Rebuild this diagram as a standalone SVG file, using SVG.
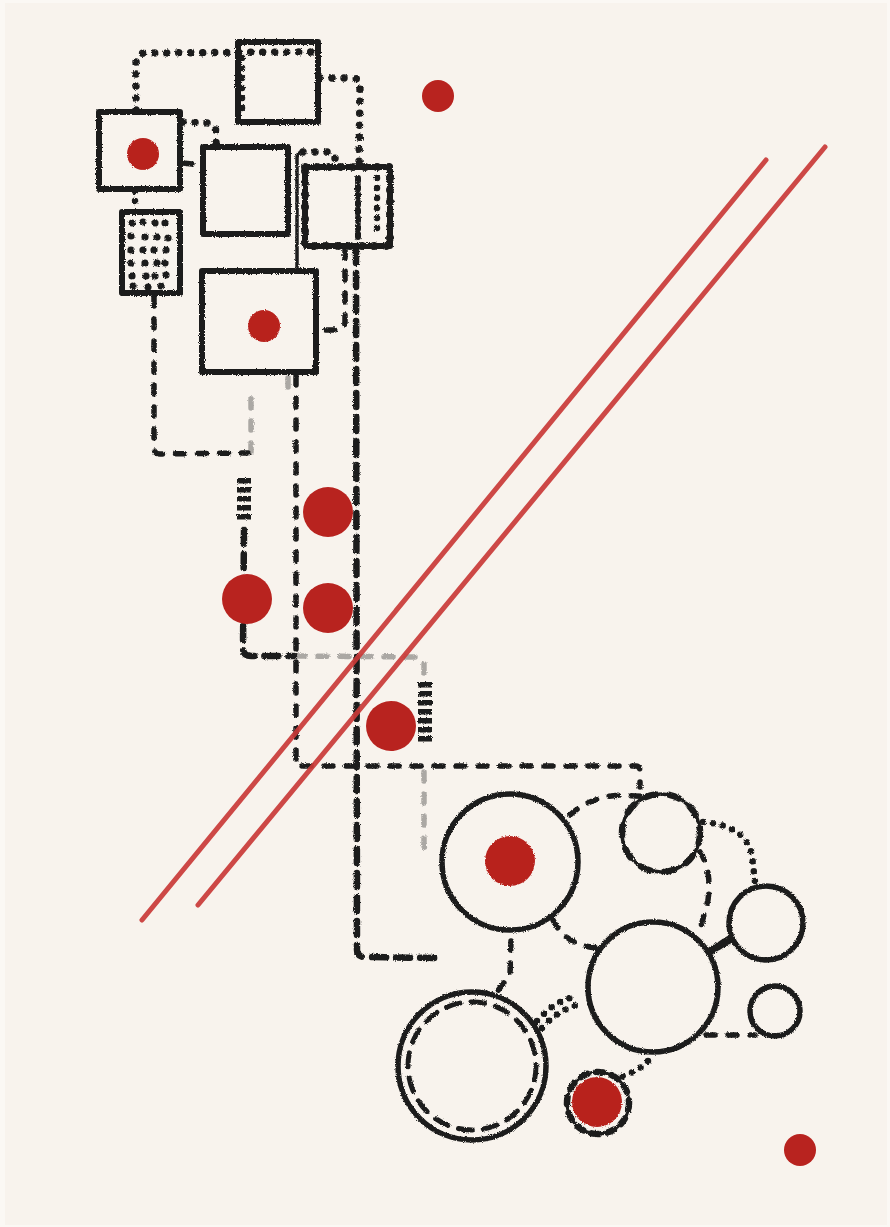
<svg xmlns="http://www.w3.org/2000/svg" width="890" height="1227" viewBox="0 0 890 1227">
<style>
.ink{fill:none;stroke:#1d1d1d;stroke-linecap:round;stroke-linejoin:round}
.box{stroke-width:6}
.ring{stroke-width:5.5}
.dot{stroke-width:7.5;stroke-dasharray:0 12}
.dotS{stroke-width:6.5;stroke-dasharray:0 10}
.dash{stroke-width:5.5;stroke-dasharray:9 13}
.dashH{stroke-width:6.5;stroke-dasharray:14 10}
.coil{fill:none;stroke:#1d1d1d;stroke-width:14;stroke-dasharray:5.5 3.5;stroke-linecap:butt}
.faint{opacity:.35}
.red{fill:#b8231f}
.redline{fill:none;stroke:#c93a37;stroke-width:5;stroke-linecap:round;opacity:.92}
.fill{fill:#1d1d1d}
</style>
<defs>
<filter id="rough" x="-5%" y="-5%" width="110%" height="110%">
<feTurbulence type="fractalNoise" baseFrequency="0.9" numOctaves="2" seed="4" result="n"/>
<feDisplacementMap in="SourceGraphic" in2="n" scale="3" xChannelSelector="R" yChannelSelector="G" result="d"/>
<feGaussianBlur in="d" stdDeviation="0.7"/>
</filter>
</defs>
<rect x="0" y="0" width="890" height="1227" fill="#fbf8f4"/>
<rect x="5" y="3" width="882" height="1222" fill="#f8f3ed"/>

<g id="connectors" filter="url(#rough)">
<path class="ink dot" d="M136,110 L136,62 Q136,53 146,53 L312,52"/>
<path class="ink dotS" d="M242,58 L242,118"/>
<path class="ink dot" d="M320,78 L352,78 Q360,78 360,86 L359,165"/>
<path class="ink dot" d="M183,122 L208,123 Q216,125 216,134 L216,146"/>
<path class="ink dash" d="M183,163 L203,165"/>
<path class="ink dotS" d="M135,191 L135,211"/>
<path class="ink" stroke-width="3.5" d="M297,268 L297,158 Q297,152 303,152"/>
<path class="ink dot" d="M303,152 L330,152 Q335,152 335,158 L335,166"/>
<path class="ink dash" d="M345,249 L345,322 Q345,330 337,330 L318,330"/>
<path class="ink dashH" d="M356,249 L357,950 Q357,957 365,957 L436,958"/>
<path class="ink dash" d="M154,297 L154,448 Q154,454 160,454 L248,453"/>
<path class="ink dash faint" d="M251,452 L251,393"/>
<path class="ink dash faint" d="M288,378 L288,398"/>
<path class="coil" d="M244,478 L244,522"/>
<path class="ink dashH" d="M244,530 L243,648 Q243,656 251,656 L294,656"/>
<path class="ink dash" d="M296,376 L296,766 L636,766 Q640,766 640,772 L640,787"/>
<path class="ink dash faint" d="M296,656 L420,657"/>
<path class="coil" d="M425,682 L425,742"/>
<path class="ink dash faint" d="M424,664 L424,676"/>
<path class="ink dash faint" d="M424,772 L424,845 Q424,851 432,851"/>
<path class="ink dash" d="M570,815 Q590,797 620,795 L650,797"/>
<path class="ink dotS" stroke-width="7" d="M703,822 Q745,825 752,855 L755,882"/>
<path class="ink dash" d="M700,852 Q712,870 708,900 L700,930"/>
<path class="ink dash" d="M553,920 Q565,945 597,948"/>
<path class="ink dash" d="M511,941 L510,975 L496,993"/>
<path class="ink dotS" d="M537,1021 Q555,1000 578,996"/>
<path class="ink dotS" d="M542,1028 Q560,1008 582,1004"/>
<path class="ink" stroke-width="8" stroke-dasharray="3 3" stroke-linecap="butt" d="M712,950 L732,938"/>
<path class="ink dash" d="M706,1035 L755,1035"/>
<path class="ink dotS" d="M648,1061 Q638,1072 618,1078"/>
</g>

<g id="box-a" filter="url(#rough)">
<rect class="ink box" x="238" y="42" width="80" height="80"/>
</g>
<g id="box-b" filter="url(#rough)">
<rect class="ink box" x="99" y="112" width="81" height="77"/>
<circle class="red" cx="143" cy="154" r="16"/>
</g>
<g id="box-c" filter="url(#rough)">
<rect class="ink box" x="203" y="147" width="85" height="87"/>
</g>
<g id="box-d" filter="url(#rough)">
<rect class="ink box" x="305" y="167" width="85" height="79"/>
<rect class="ink" stroke-width="8" stroke-dasharray="0 12" x="305" y="167" width="85" height="79"/>
<path class="ink" stroke-width="6" stroke-dasharray="3 5" stroke-linecap="round" d="M358,178 L358,238"/>
<path class="ink dotS" stroke-width="6" stroke-dasharray="0 18" d="M377,178 L377,236"/>
</g>
<g id="box-e" filter="url(#rough)">
<rect class="ink box" x="122" y="212" width="58" height="81"/>
<g class="fill">
<circle cx="132" cy="223" r="3.6"/><circle cx="143" cy="222" r="3.6"/><circle cx="155" cy="223" r="3.6"/><circle cx="165" cy="223" r="3.6"/>
<circle cx="131" cy="236" r="3.6"/><circle cx="145" cy="237" r="3.6"/><circle cx="157" cy="237" r="3.6"/><circle cx="168" cy="238" r="3.6"/>
<circle cx="131" cy="250" r="3.6"/><circle cx="143" cy="250" r="3.6"/><circle cx="154" cy="250" r="3.6"/><circle cx="166" cy="250" r="3.6"/>
<circle cx="131" cy="263" r="3.6"/><circle cx="145" cy="263" r="3.6"/><circle cx="157" cy="263" r="3.6"/><circle cx="165" cy="263" r="3.6"/>
<circle cx="132" cy="276" r="3.6"/><circle cx="146" cy="276" r="3.6"/><circle cx="155" cy="276" r="3.6"/><circle cx="166" cy="275" r="3.6"/>
<circle cx="133" cy="286" r="3.6"/><circle cx="148" cy="287" r="3.6"/><circle cx="161" cy="286" r="3.6"/>
</g>
</g>
<g id="box-f" filter="url(#rough)">
<rect class="ink box" x="202" y="271" width="114" height="101"/>
<circle class="red" cx="264" cy="326" r="16"/>
</g>

<g id="circle-1" filter="url(#rough)">
<circle class="ink ring" cx="510" cy="862" r="68"/>
<circle class="red" cx="510" cy="861" r="25"/>
</g>
<g id="circle-2" filter="url(#rough)">
<circle class="ink" stroke-width="3.5" cx="661" cy="833" r="39"/>
<circle class="ink" stroke-width="6.5" stroke-dasharray="10 14" cx="661" cy="833" r="39"/>
</g>
<g id="circle-3" filter="url(#rough)">
<circle class="ink ring" cx="766" cy="923" r="37"/>
</g>
<g id="circle-4" filter="url(#rough)">
<circle class="ink ring" cx="653" cy="987" r="65"/>
</g>
<g id="circle-5" filter="url(#rough)">
<circle class="ink ring" cx="775" cy="1011" r="25"/>
</g>
<g id="circle-6" filter="url(#rough)">
<circle class="ink ring" cx="472" cy="1066" r="74"/>
<circle class="ink" stroke-width="5" stroke-dasharray="14 11" cx="472" cy="1066" r="64"/>
</g>
<g id="circle-7" filter="url(#rough)">
<circle class="ink" stroke-width="3" cx="598" cy="1103" r="31"/>
<circle class="ink" stroke-width="6.5" stroke-dasharray="7 9" cx="598" cy="1103" r="31"/>
<circle class="red" cx="597" cy="1102" r="25"/>
</g>

<g id="red-lines">
<path class="redline" d="M142,920 L766,160"/>
<path class="redline" d="M198,905 L825,147"/>
</g>

<g id="red-dots">
<circle class="red" cx="438" cy="96" r="16"/>
<circle class="red" cx="328" cy="512" r="25"/>
<circle class="red" cx="247" cy="599" r="25"/>
<circle class="red" cx="328" cy="608" r="25"/>
<circle class="red" cx="391" cy="726" r="25"/>
<circle class="red" cx="800" cy="1150" r="16"/>
</g>
</svg>
